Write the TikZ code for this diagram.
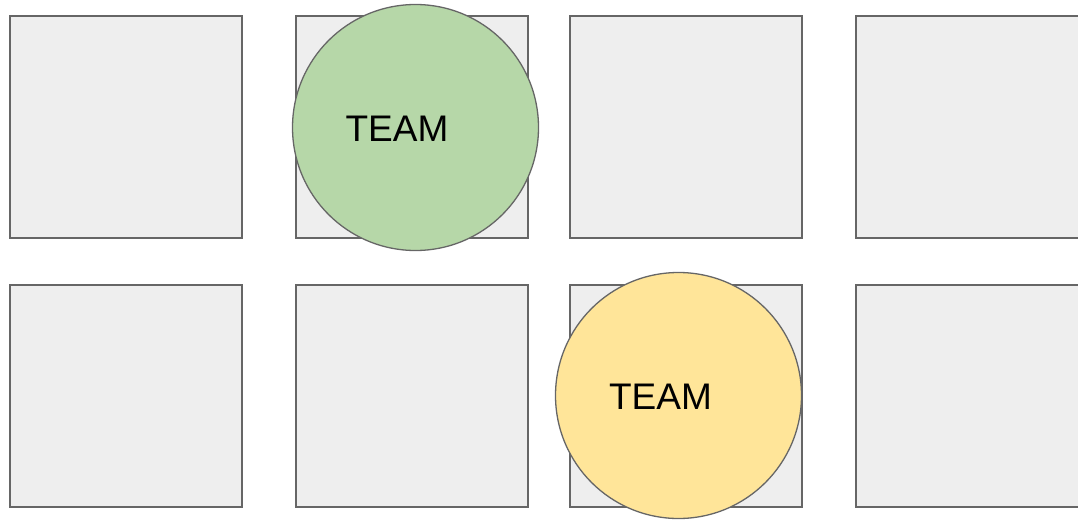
\documentclass[tikz,border=0pt]{standalone}
\usepackage{fontspec}
\setmainfont{Liberation Sans}
\usepackage{xcolor}
\definecolor{tilegrey}{HTML}{EEEEEE}
\definecolor{edgegrey}{HTML}{666666}
\definecolor{teamgreen}{HTML}{B6D7A8}
\definecolor{teamyellow}{HTML}{FFE599}
\tikzset{
  tile/.style={draw=edgegrey, fill=tilegrey, line width=1.3pt, inner sep=0pt,
    minimum width=232pt, minimum height=222pt},
  team/.style={circle, draw=edgegrey, line width=1.3pt, inner sep=0pt, minimum size=246pt},
  teamlabel/.style={font=\fontsize{37}{40}\selectfont, inner sep=0pt}
}

\begin{document}
\begin{tikzpicture}[x=1pt,y=-1pt]
\useasboundingbox (0,0) rectangle (1078,519);
\clip (0,0) rectangle (1078,519);
\foreach \col/\x in {1/126,2/412,3/686,4/972}{
  \node[tile] (tile1\col) at (\x,127) {};
  \node[tile] (tile2\col) at (\x,396) {};
}
\node[team, fill=teamgreen] (teamA) at (415.5,127.5) {};
\node[teamlabel] (labelA) at (397,129) {TEAM};
\node[team, fill=teamyellow] (teamB) at (678.5,395.5) {};
\node[teamlabel] (labelB) at (660.5,397) {TEAM};
\end{tikzpicture}
\end{document}
